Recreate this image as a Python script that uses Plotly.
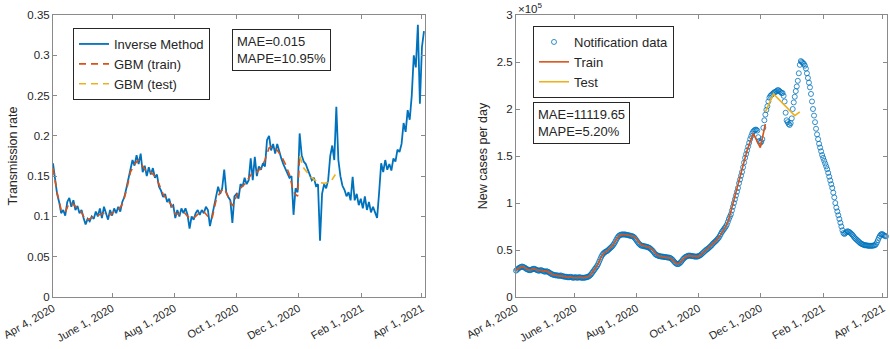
import pandas as pd
import plotly.graph_objects as go

BASE = pd.Timestamp("2020-04-04")

# ---------------- Left panel: transmission rate (every 2 days) ----------------
inverse_method = [
    0.166, 0.149, 0.128, 0.118, 0.104, 0.108, 0.101, 0.118, 0.123, 0.112,
    0.120, 0.108, 0.113, 0.104, 0.108, 0.098, 0.090, 0.097, 0.094, 0.100,
    0.097, 0.106, 0.100, 0.110, 0.098, 0.112, 0.104, 0.096, 0.108, 0.101,
    0.110, 0.104, 0.112, 0.106, 0.118, 0.124, 0.135, 0.146, 0.158, 0.170,
    0.163, 0.176, 0.165, 0.178, 0.155, 0.163, 0.150, 0.161, 0.152, 0.160,
    0.148, 0.152, 0.137, 0.132, 0.124, 0.128, 0.118, 0.122, 0.112, 0.114,
    0.098, 0.108, 0.100, 0.110, 0.104, 0.110, 0.102, 0.085, 0.100, 0.096,
    0.104, 0.108, 0.102, 0.108, 0.104, 0.112, 0.108, 0.088, 0.100, 0.112,
    0.126, 0.137, 0.128, 0.135, 0.158, 0.130, 0.124, 0.120, 0.092, 0.125,
    0.128, 0.122, 0.140, 0.137, 0.148, 0.140, 0.145, 0.172, 0.145, 0.174,
    0.150, 0.162, 0.158, 0.166, 0.162, 0.195, 0.200, 0.182, 0.190, 0.178,
    0.190, 0.180, 0.172, 0.165, 0.160, 0.155, 0.148, 0.150, 0.102, 0.135,
    0.130, 0.203, 0.176, 0.168, 0.165, 0.158, 0.150, 0.145, 0.148, 0.138,
    0.140, 0.070, 0.128, 0.140, 0.135, 0.145, 0.175, 0.188, 0.170, 0.236,
    0.170, 0.150, 0.138, 0.133, 0.125, 0.130, 0.120, 0.149, 0.120, 0.128,
    0.114, 0.122, 0.110, 0.125, 0.108, 0.118, 0.105, 0.112, 0.105, 0.098,
    0.130, 0.166, 0.155, 0.170, 0.158, 0.165, 0.157, 0.172, 0.168, 0.183,
    0.180, 0.190, 0.216, 0.205, 0.232, 0.220, 0.250, 0.300, 0.285, 0.338,
    0.240, 0.310, 0.330,
]
inverse_days = list(range(0, 2 * len(inverse_method), 2))

gbm_train = [
    0.160, 0.130, 0.108, 0.105, 0.117, 0.115, 0.110, 0.105, 0.095, 0.097,
    0.100, 0.102, 0.103, 0.105, 0.102, 0.106, 0.108, 0.115, 0.132, 0.155,
    0.165, 0.170, 0.163, 0.155, 0.155, 0.150, 0.140, 0.128, 0.120, 0.115,
    0.103, 0.103, 0.106, 0.100, 0.097, 0.100, 0.105, 0.106, 0.100, 0.097,
    0.120, 0.130, 0.135, 0.125, 0.113, 0.125, 0.135, 0.140, 0.148, 0.155,
    0.155, 0.160, 0.170, 0.185, 0.187, 0.182, 0.175, 0.165, 0.152, 0.130,
    0.125, 0.175,
]
gbm_train_days = list(range(0, 4 * 61, 4)) + [242]

gbm_test = [0.175, 0.160, 0.149, 0.143, 0.141, 0.144, 0.152]
gbm_test_days = [242, 246, 253, 259, 266, 273, 277]

# ---------------- Right panel: new cases per day (thousands) ----------------
notification = [
    28, 29, 30, 31, 31.5, 32, 32.5,
    32, 31.5, 31, 30, 29.5, 29, 28.5,
    28.5, 29, 29.5, 30, 30, 29.5, 29,
    28.5, 28, 28, 28.5, 28.5, 28, 27.5,
    27, 27, 27.5, 27, 26.5, 26, 25,
    24.5, 24, 23.5, 23.5, 23, 23, 23,
    22.5, 22.5, 23, 22.5, 22, 22, 21.5,
    21.5, 21.5, 21, 21, 21, 21.5, 21,
    20.5, 20.5, 21, 21, 20.5, 20.5, 21,
    21, 20.5, 20.5, 20.5, 20.5, 20.5, 21,
    21, 21.5, 22, 23, 24, 25.5, 27,
    28.5, 30, 31.5, 33, 35, 37.5, 40,
    42.5, 44.5, 46, 47, 48, 48.5, 49,
    50, 51, 52, 53, 54, 55.5, 57,
    59, 61, 63, 64.5, 65.5, 66, 66.5,
    66.5, 66.5, 66.5, 66.5, 66, 66, 65.5,
    65.5, 65, 65, 64.5, 64, 63, 61.5,
    60, 58.5, 57, 56, 55, 54.5, 54.5,
    54, 54, 53.5, 53.5, 53, 52.5, 52,
    51, 50, 49, 47.5, 46, 45, 44.5,
    44, 43.5, 43.5, 43, 43, 43, 42.5,
    42.5, 42.5, 42, 42, 42, 41.5, 41,
    40, 39, 37.5, 36.5, 35.5, 35, 35,
    35.5, 36.5, 37.5, 39, 40.5, 41.5, 42.5,
    43, 43.5, 44, 44, 44, 43.5, 43.5,
    43.5, 43, 43, 43, 43, 43.5, 44,
    44.5, 45.5, 46.5, 47.5, 48.5, 49.5, 50.5,
    51, 52, 53, 54, 55, 56.5, 57.5,
    58.5, 59.5, 60.5, 62, 63, 65, 67,
    69, 70.5, 72, 73.5, 75, 77, 80,
    83, 85.5, 88, 92, 96, 100, 104,
    108, 112, 116, 121, 125, 129, 133,
    138, 143, 148, 152, 156, 160, 164,
    168, 171, 174, 176, 177, 178, 178,
    177, 170, 166, 164, 165, 168, 180,
    188, 194, 199, 203, 208, 212, 214,
    215, 216, 217, 218, 218, 219, 220,
    220, 219, 218, 217, 217, 214, 208,
    196, 188, 186, 184, 183, 185, 190,
    200, 207, 213, 219, 224, 230, 238,
    247, 251, 250, 249, 248, 246, 243,
    238, 233, 228, 223, 216, 208, 200,
    193, 186, 179, 173, 168, 163, 159,
    155, 151, 148, 145, 142, 139, 136,
    132, 128, 124, 120, 116, 111, 106,
    100, 95, 91, 87, 83, 79, 75,
    71, 68, 67, 68, 69, 70, 69.5,
    69, 68, 67, 66, 64.5, 63, 62,
    61, 60, 59, 58, 57, 56.5, 56,
    55.5, 55, 55, 55, 54.5, 54.5, 54.5,
    54.5, 54.5, 54.5, 55, 55, 56, 58,
    60.5, 63, 65, 66.5, 67, 66.5, 65.5,
    65, 64.5,
]
notification_days = list(range(len(notification)))

train_fit = [
    28.5, 31, 32.5, 31, 29, 29, 30, 28.5, 28.5, 27.5,
    27.5, 26, 24, 23.5, 22.5, 22.5, 21.5, 21, 21.5, 20.5,
    20.5, 21, 20.5, 21, 22, 25.5, 30, 35, 42.5, 47,
    49, 52, 55.5, 61, 65.5, 66.5, 66.5, 66, 65, 64,
    60, 56, 54.5, 53.5, 52.5, 50, 46, 43.5, 43, 42.5,
    42, 41, 37.5, 35, 36.5, 40.5, 43, 44, 43.5, 43,
    43, 45.5, 48.5, 51, 54, 57.5, 60.5, 65, 70.5, 75,
    83, 156, 174, 159, 184,
]
train_days = list(range(0, 3 * 71, 3)) + [228, 234, 241, 246]

test_fit = [197, 216, 193, 197]
test_days = [246, 254, 275, 280]

tick_dates = ["2020-04-04", "2020-06-01", "2020-08-01", "2020-10-01",
              "2020-12-01", "2021-02-01", "2021-04-01"]
tick_text = ["Apr 4, 2020", "June 1, 2020", "Aug 1, 2020", "Oct 1, 2020",
             "Dec 1, 2020", "Feb 1, 2021", "Apr 1, 2021"]

left_yticks = [0, 0.05, 0.1, 0.15, 0.2, 0.25, 0.3, 0.35]
left_yticktext = ["0", "0.05", "0.1", "0.15", "0.2", "0.25", "0.3", "0.35"]
right_yticks = [0, 50000, 100000, 150000, 200000, 250000, 300000]
right_yticktext = ["0", "0.5", "1", "1.5", "2", "2.5", "3"]


def to_dates(days):
    return [BASE + pd.Timedelta(days=d) for d in days]


BLUE = "#0072BD"
ORANGE = "#D95319"
YELLOW = "#EDB120"
FONT = "Liberation Sans, Arial, sans-serif"
TXT = "#262626"
AXC = "#8a8a8a"
DASH = "7px,5px"

fig = go.Figure()

fig.add_trace(go.Scatter(x=to_dates(inverse_days), y=inverse_method, mode="lines",
                         name="Inverse Method", line=dict(color=BLUE, width=1.8),
                         xaxis="x", yaxis="y", legend="legend"))
fig.add_trace(go.Scatter(x=to_dates(gbm_train_days), y=gbm_train, mode="lines",
                         name="GBM (train)", line=dict(color=ORANGE, width=1.6, dash=DASH),
                         xaxis="x", yaxis="y", legend="legend"))
fig.add_trace(go.Scatter(x=to_dates(gbm_test_days), y=gbm_test, mode="lines",
                         name="GBM (test)", line=dict(color=YELLOW, width=1.6, dash=DASH),
                         xaxis="x", yaxis="y", legend="legend"))

fig.add_trace(go.Scatter(x=to_dates(notification_days), y=[v * 1000 for v in notification],
                         mode="markers", name="Notification data",
                         marker=dict(symbol="circle-open", size=5, color=BLUE,
                                     line=dict(width=0.8, color=BLUE)),
                         cliponaxis=False,
                         xaxis="x2", yaxis="y2", legend="legend2"))
fig.add_trace(go.Scatter(x=to_dates(train_days), y=[v * 1000 for v in train_fit],
                         mode="lines", name="Train", line=dict(color=ORANGE, width=1.6),
                         xaxis="x2", yaxis="y2", legend="legend2"))
fig.add_trace(go.Scatter(x=to_dates(test_days), y=[v * 1000 for v in test_fit],
                         mode="lines", name="Test", line=dict(color=YELLOW, width=1.6),
                         xaxis="x2", yaxis="y2", legend="legend2"))

W, H = 890, 349
ydom = [52 / H, 334 / H]

xcommon = dict(type="date", tickvals=tick_dates, ticktext=tick_text, tickangle=-30,
               ticks="inside", ticklen=4, tickcolor=AXC, showline=True, linecolor=AXC,
               linewidth=1, mirror="ticks", showgrid=False, zeroline=False,
               automargin=False,
               tickfont=dict(size=11, color=TXT, family=FONT))
ycommon = dict(ticks="inside", ticklen=4, tickcolor=AXC, showline=True, linecolor=AXC,
               linewidth=1, mirror="ticks", showgrid=False, zeroline=False,
               automargin=False,
               tickfont=dict(size=11.5, color=TXT, family=FONT))

fig.update_layout(
    width=W, height=H,
    margin=dict(l=0, r=0, t=0, b=0, autoexpand=False),
    paper_bgcolor="white", plot_bgcolor="white",
    font=dict(family=FONT, color=TXT),
    xaxis=dict(domain=[53 / W, 425 / W], range=["2020-04-04", "2021-04-04"],
               anchor="y", **xcommon),
    yaxis=dict(domain=ydom, range=[0, 0.35], tickvals=left_yticks,
               ticktext=left_yticktext, anchor="x",
               title=dict(text="Transmission rate", font=dict(size=12.5, color=TXT), standoff=6),
               **ycommon),
    xaxis2=dict(domain=[516 / W, 887 / W], range=["2020-04-04", "2021-04-05"],
                anchor="y2", **xcommon),
    yaxis2=dict(domain=ydom, range=[0, 300000], tickvals=right_yticks,
                ticktext=right_yticktext, anchor="x2",
                title=dict(text="New cases per day", font=dict(size=12.5, color=TXT), standoff=6),
                **ycommon),
    legend=dict(x=73 / W, y=1 - 28 / H, xanchor="left", yanchor="top",
                bgcolor="white", bordercolor="#262626", borderwidth=1,
                font=dict(size=13, color=TXT, family=FONT), itemwidth=30,
                tracegroupgap=0),
    legend2=dict(x=533 / W, y=1 - 26 / H, xanchor="left", yanchor="top",
                 bgcolor="white", bordercolor="#262626", borderwidth=1,
                 font=dict(size=13, color=TXT, family=FONT), itemwidth=30,
                 tracegroupgap=0),
    showlegend=True,
    annotations=[
        dict(xref="paper", yref="paper", x=232 / W, y=1 - 29 / H, xanchor="left", yanchor="top",
             text="MAE=0.015<br>MAPE=10.95%", showarrow=False, align="left",
             font=dict(size=13, color=TXT, family=FONT), bordercolor="#262626",
             borderwidth=1, borderpad=4, bgcolor="white"),
        dict(xref="paper", yref="paper", x=533 / W, y=1 - 102 / H, xanchor="left", yanchor="top",
             text="MAE=11119.65<br>MAPE=5.20%", showarrow=False, align="left",
             font=dict(size=13, color=TXT, family=FONT), bordercolor="#262626",
             borderwidth=1, borderpad=4, bgcolor="white"),
        dict(xref="paper", yref="paper", x=516 / W, y=1 - 8 / H, xanchor="left", yanchor="middle",
             text="×10<sup>5</sup>", showarrow=False,
             font=dict(size=11.5, color=TXT, family=FONT)),
    ],
)

fig.write_html("out.html", config={"displayModeBar": False},
               post_script="document.body.style.margin='0';document.body.style.overflow='hidden';")
